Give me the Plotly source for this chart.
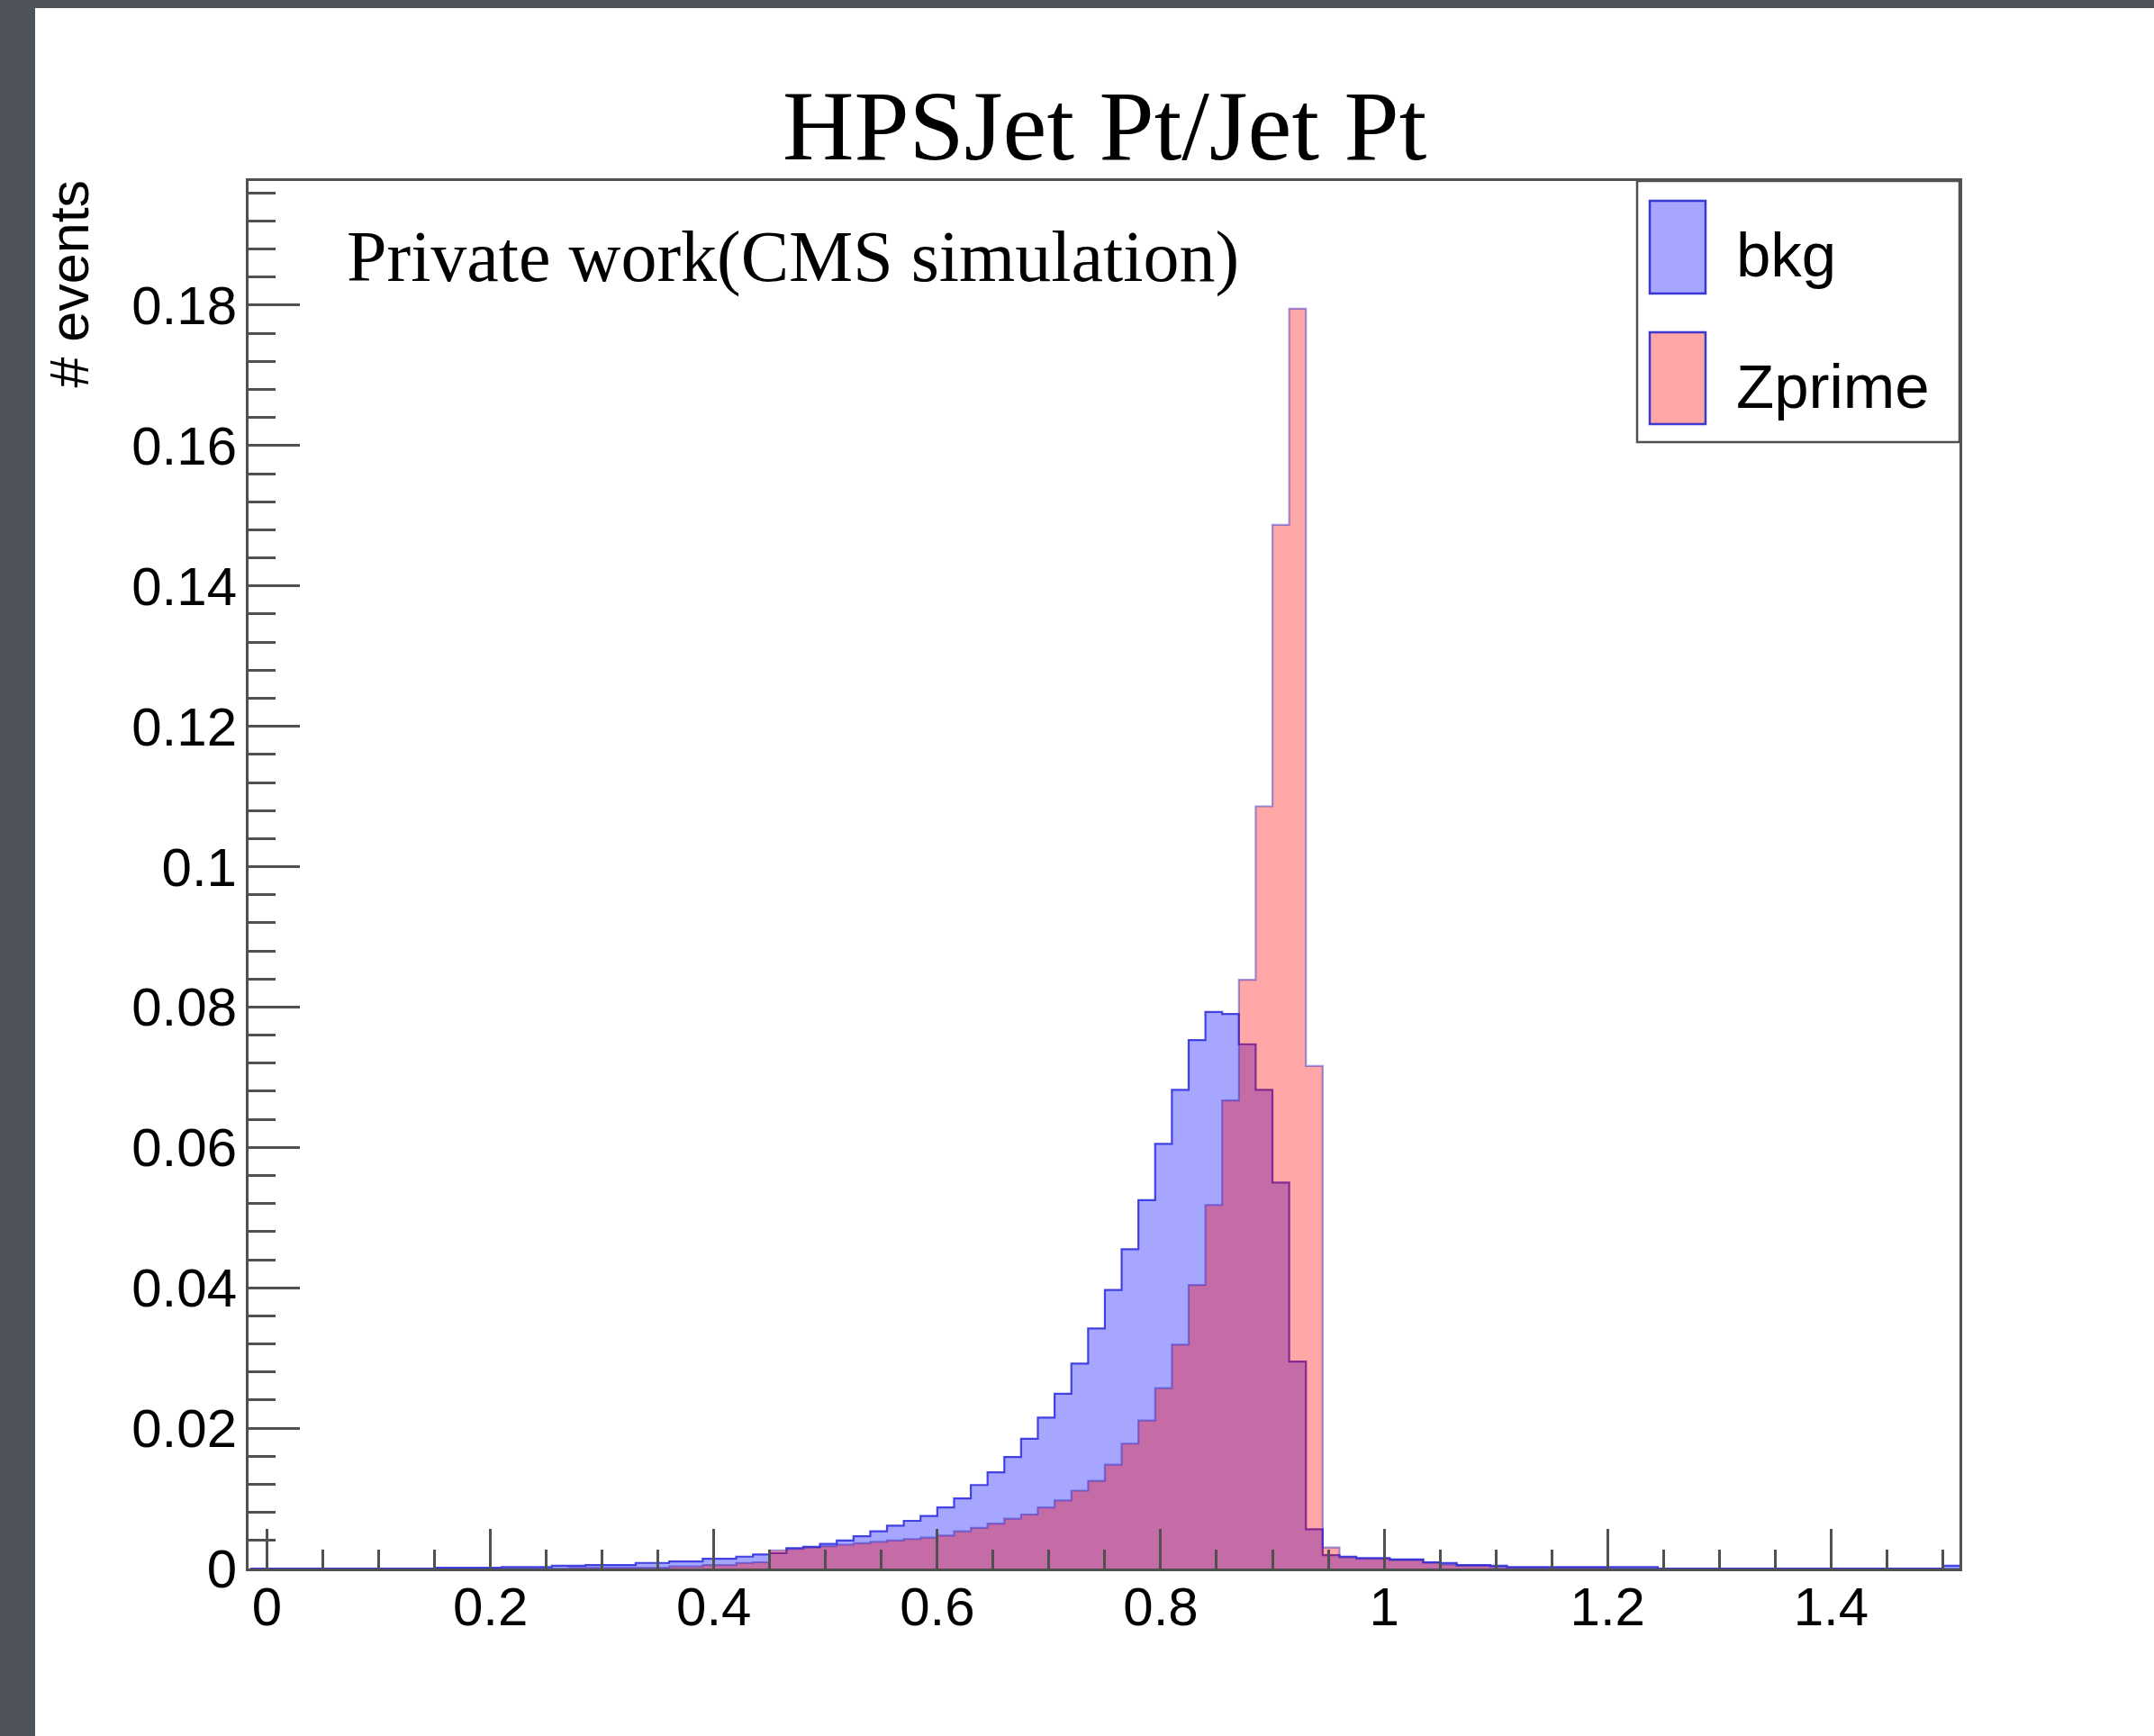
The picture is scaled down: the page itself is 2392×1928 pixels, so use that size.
import numpy as np
import plotly.graph_objects as go

# ---------------- data ----------------
# histogram bins: width 0.015, from -0.015 to 1.515 (102 bins)
bin_edges = [round(0.015 * k, 3) for k in range(-1, 102)]

bkg = ([0.0] * 11 +                                   # k=-1..9
       [0.0001, 0.0001, 0.0001, 0.0001, 0.0002, 0.0002, 0.0002] +   # k=10..16
       [0.0004, 0.0004, 0.0005, 0.0005, 0.0005, 0.0008, 0.0008,     # k=17..23
        0.0010, 0.0010, 0.0014, 0.0014, 0.0017, 0.0020, 0.0022,     # k=24..30
        0.0029, 0.0031, 0.0035, 0.0040, 0.0046, 0.0053, 0.0061,     # k=31..37
        0.0068, 0.0075, 0.0087, 0.0100, 0.0119, 0.0137, 0.0159,     # k=38..44
        0.0185, 0.0215, 0.0249, 0.0292, 0.0342, 0.0397, 0.0455,     # k=45..51
        0.0525, 0.0605, 0.0682, 0.0753, 0.0793, 0.0790, 0.0747,     # k=52..58
        0.0682, 0.0550, 0.0295, 0.0056, 0.0019, 0.0017, 0.0015,     # k=59..65
        0.0015, 0.0013, 0.0013, 0.0009, 0.0008, 0.0005, 0.0005,     # k=66..72
        0.0004] +                                                   # k=73
       [0.0002] * 9 +                                 # k=74..82
       [0.0] * 17 +                                   # k=83..99
       [0.0004])                                      # k=100

zprime = ([0.0] * 19 +                                # k=-1..17
          [0.0001] * 6 +                              # k=18..23
          [0.0003, 0.0003, 0.0005, 0.0005, 0.0008, 0.0009,          # k=24..29
           0.0026, 0.0028, 0.0030, 0.0032, 0.0034, 0.0036,          # k=30..35
           0.0038, 0.0040, 0.0042, 0.0044, 0.0047, 0.0053,          # k=36..41
           0.0058, 0.0064, 0.0071, 0.0077, 0.0087, 0.0097,          # k=42..47
           0.0111, 0.0125, 0.0148, 0.0178, 0.0211, 0.0257,          # k=48..53
           0.0319, 0.0404, 0.0518, 0.0667, 0.0839, 0.1086,          # k=54..59
           0.1487, 0.1795, 0.0716, 0.0030, 0.0016, 0.0014,          # k=60..65
           0.0014, 0.0012, 0.0012, 0.0008, 0.0006, 0.0004,          # k=66..71
           0.0004, 0.0002] +                                        # k=72..73
          [0.0001] * 6 +                              # k=74..79
          [0.0] * 21)                                 # k=80..100

series_names = ["bkg", "Zprime"]
x_tickvals = [0, 0.2, 0.4, 0.6, 0.8, 1.0, 1.2, 1.4]
y_tickvals = [0, 0.02, 0.04, 0.06, 0.08, 0.1, 0.12, 0.14, 0.16, 0.18]

# ---------------- layout geometry (pixels) ----------------
W, H = 2392, 1928
L, R, T, B = 276, 2176, 201, 1742


def px(x):
    return (x - L) / (R - L)


def py(y):
    return (B - y) / (B - T)


AX = "#505050"
BLUE_FILL = "rgba(0,0,255,0.35)"
RED_FILL = "rgba(255,0,0,0.35)"

fig = go.Figure()


def step_trace(vals, name, fill, line):
    return go.Scatter(
        x=bin_edges,
        y=list(vals) + [vals[-1]],
        mode="lines",
        line=dict(shape="hv", color=line, width=2.2),
        fill="tozeroy",
        fillcolor=fill,
        name=name,
        showlegend=False,
        hoverinfo="skip",
    )


fig.add_trace(step_trace(bkg, series_names[0], BLUE_FILL, "rgba(30,30,220,0.8)"))
fig.add_trace(step_trace(zprime, series_names[1], RED_FILL, "rgba(40,40,200,0.45)"))

shapes = []
# slide (white) over dark photo background
shapes.append(dict(type="rect", xref="paper", yref="paper",
                   x0=px(39), x1=px(W + 5), y0=py(H + 5), y1=py(9),
                   fillcolor="white", line=dict(width=0), layer="below"))
# legend box
shapes.append(dict(type="rect", xref="paper", yref="paper",
                   x0=px(1818), x1=px(R), y0=py(491), y1=py(T),
                   line=dict(color=AX, width=2.5), fillcolor="rgba(0,0,0,0)"))
# legend swatches
shapes.append(dict(type="rect", xref="paper", yref="paper",
                   x0=px(1832), x1=px(1894), y0=py(326), y1=py(223),
                   fillcolor=BLUE_FILL, line=dict(color="rgba(40,40,210,0.9)", width=2.5)))
shapes.append(dict(type="rect", xref="paper", yref="paper",
                   x0=px(1832), x1=px(1894), y0=py(471), y1=py(369),
                   fillcolor=RED_FILL, line=dict(color="rgba(40,40,210,0.9)", width=2.5)))

annotations = [
    dict(text="HPSJet Pt/Jet Pt", xref="paper", yref="paper",
         x=px(1226), y=py(140), xanchor="center", yanchor="middle",
         showarrow=False, font=dict(family="Liberation Serif", size=110, color="black")),
    dict(text="Private work(CMS simulation)", xref="paper", yref="paper",
         x=px(383), y=py(286), xanchor="left", yanchor="middle",
         showarrow=False, font=dict(family="Liberation Serif", size=80, color="black")),
    dict(text="# events", xref="paper", yref="paper",
         x=px(76), y=py(198), xanchor="center", yanchor="top", textangle=-90,
         showarrow=False, font=dict(family="Liberation Sans", size=61, color="black")),
    dict(text=series_names[0], xref="paper", yref="paper",
         x=px(1926), y=py(283), xanchor="left", yanchor="middle",
         showarrow=False, font=dict(family="Liberation Sans", size=69, color="black")),
    dict(text=series_names[1], xref="paper", yref="paper",
         x=px(1926), y=py(429), xanchor="left", yanchor="middle",
         showarrow=False, font=dict(family="Liberation Sans", size=69, color="black")),
]

fig.update_layout(
    width=W, height=H,
    margin=dict(l=L, r=W - R, t=T, b=H - B, pad=0),
    paper_bgcolor="#4e535c",
    plot_bgcolor="white",
    shapes=shapes,
    annotations=annotations,
    showlegend=False,
)

fig.update_xaxes(
    range=[-0.0165, 1.515],
    tickmode="array", tickvals=x_tickvals,
    ticks="inside", ticklen=44, tickwidth=2.5, tickcolor=AX,
    minor=dict(ticks="inside", ticklen=21, tickwidth=2.5, tickcolor=AX,
               tickmode="linear", tick0=0, dtick=0.05),
    showline=True, linecolor=AX, linewidth=3, mirror=True,
    showgrid=False, zeroline=False, automargin=False,
    tickfont=dict(family="Liberation Sans", size=60, color="black"),
    ticklabelstandoff=-12,
)
fig.update_yaxes(
    range=[0, 0.1977],
    tickmode="array", tickvals=y_tickvals,
    ticks="inside", ticklen=57, tickwidth=2.5, tickcolor=AX,
    minor=dict(ticks="inside", ticklen=30, tickwidth=2.5, tickcolor=AX,
               tickmode="linear", tick0=0, dtick=0.004),
    showline=True, linecolor=AX, linewidth=3, mirror=True,
    showgrid=False, zeroline=False, automargin=False,
    tickfont=dict(family="Liberation Sans", size=60, color="black"),
    ticklabelstandoff=-2,
)

fig.write_html("out.html")
